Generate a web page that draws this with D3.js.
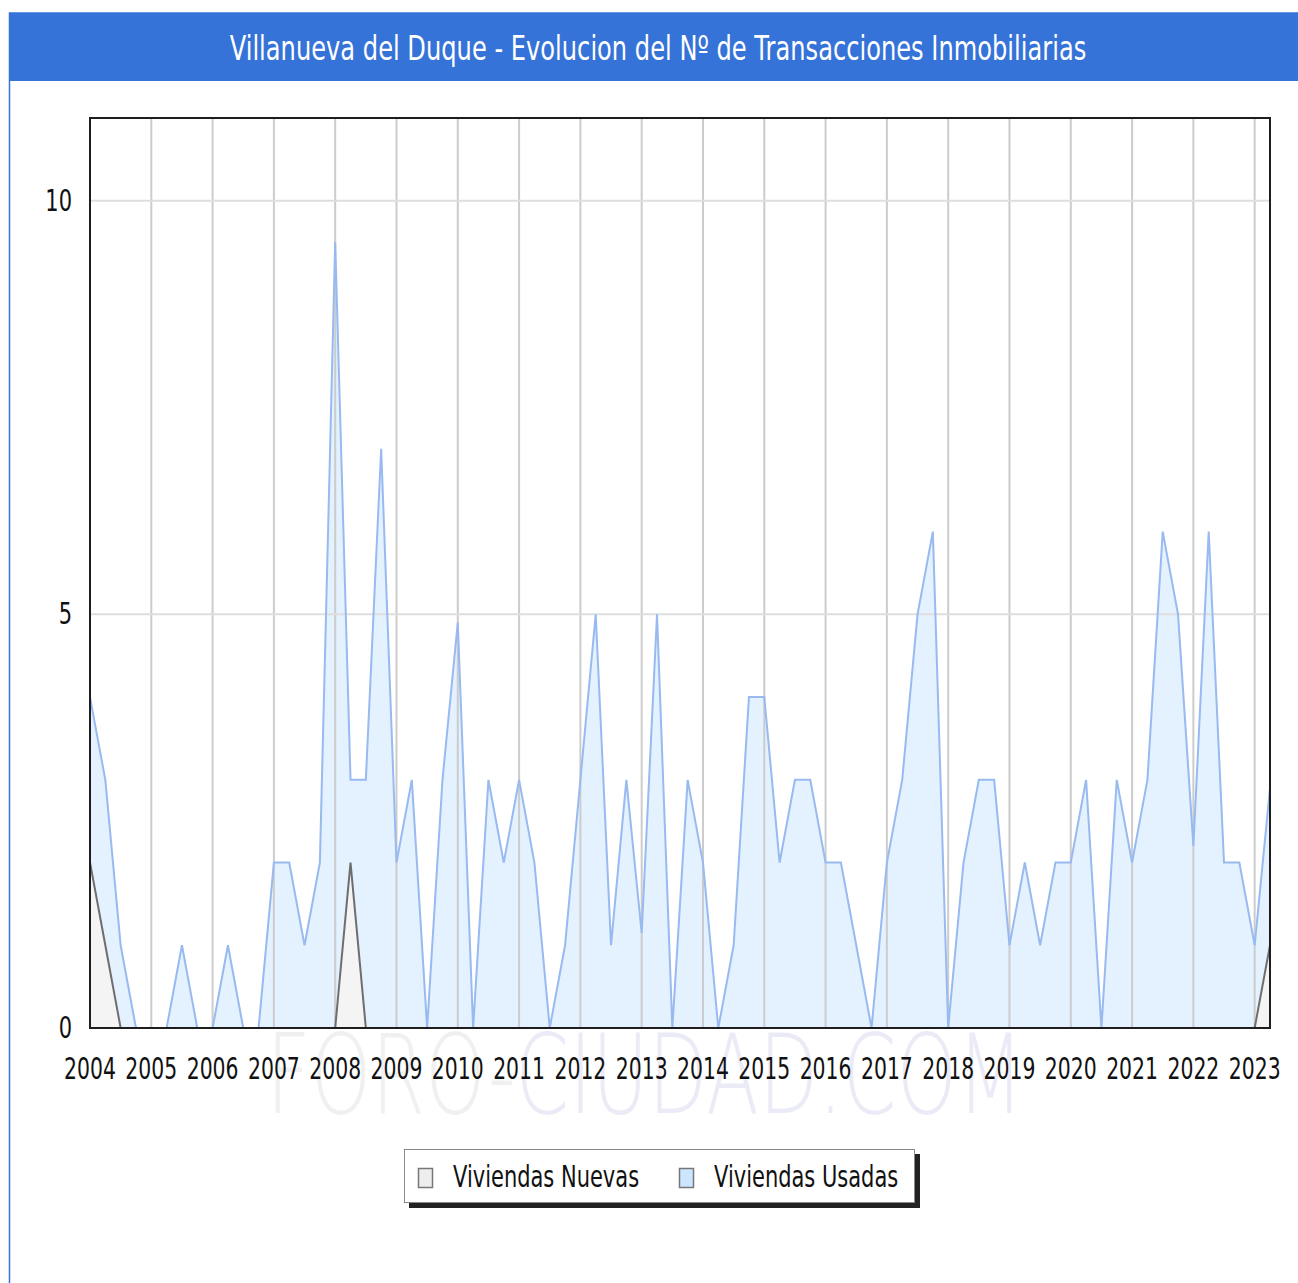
<!DOCTYPE html>
<html>
<head>
<meta charset="utf-8">
<script src="https://cdn.jsdelivr.net/npm/d3@7"></script>
<style>
  body { margin: 0; background: #fff; }
  svg text { font-family: "DejaVu Sans", sans-serif; }
</style>
</head>
<body>
<svg class="chart"></svg>
<script>
// quarterly figures, 2004 T1 .. 2023 T2
var years = ["2004","2005","2006","2007","2008","2009","2010","2011","2012","2013",
             "2014","2015","2016","2017","2018","2019","2020","2021","2022","2023"];
var yTicks = [0, 5, 10];

var usadas = [4,3,1,0, 0,0,1,0, 0,1,0,0, 2,2,1,2,
              9.5,3,3,7, 2,3,0,3, 4.9,0,3,2, 3,2,0,1,
              3,5,1,3, 1.15,5,0,3, 2,0,1,4, 4,2,3,3,
              2,2,1,0, 2,3,5,6, 0,2,3,3, 1,2,1,2,
              2,3,0,3, 2,3,6,5, 2.2,6,2,2, 1,2.9];

var nuevas = [2,1,0,0, 0,0,0,0, 0,0,0,0, 0,0,0,0,
              0,2,0,0, 0,0,0,0, 0,0,0,0, 0,0,0,0,
              0,0,0,0, 0,0,0,0, 0,0,0,0, 0,0,0,0,
              0,0,0,0, 0,0,0,0, 0,0,0,0, 0,0,0,0,
              0,0,0,0, 0,0,0,0, 0,0,0,0, 0,1];

var seriesNames = ["Viviendas Nuevas", "Viviendas Usadas"];

var width = 1298, height = 1283;
var plotLeft = 90, plotRight = 1270, plotTop = 118, plotBottom = 1028;
var sx = 0.7; // the original lettering is squeezed sideways

var svg = d3.select(".chart")
            .attr("width", width)
            .attr("height", height);

// outer frame + title bar
svg.append("rect")
   .attr("x", 9.5).attr("y", 13).attr("width", 1300).attr("height", 1300)
   .attr("fill", "none").attr("stroke", "#3673d8").attr("stroke-width", 1.5);
svg.append("rect")
   .attr("x", 10).attr("y", 13).attr("width", 1288).attr("height", 68)
   .attr("fill", "#3673d8");
svg.append("text")
   .attr("transform", "translate(658,60) scale(" + sx + ",1)")
   .attr("text-anchor", "middle")
   .attr("font-size", 34.5)
   .attr("fill", "#fff")
   .text("Villanueva del Duque - Evolucion del Nº de Transacciones Inmobiliarias");

var x = d3.scaleLinear().domain([0, usadas.length - 1]).range([plotLeft, plotRight]);
var y = d3.scaleLinear().domain([0, 11]).range([plotBottom, plotTop]);

// watermark
var wm = svg.append("text")
   .attr("transform", "translate(645,1113) scale(" + sx + ",1)")
   .attr("text-anchor", "middle")
   .attr("font-size", 110)
   .attr("font-weight", 200);
wm.append("tspan").attr("fill", "#f0f0f0").text("FORO-");
wm.append("tspan").attr("fill", "#ebebf8").text("CIUDAD.COM");

svg.append("clipPath").attr("id", "plotclip")
   .append("rect")
   .attr("x", plotLeft).attr("y", plotTop)
   .attr("width", plotRight - plotLeft).attr("height", plotBottom - plotTop);

var plot = svg.append("g").attr("clip-path", "url(#plotclip)");

var areaGen = d3.area()
    .x(function(d, i){ return x(i); })
    .y0(y(0))
    .y1(function(d){ return y(d); });
var lineGen = d3.line()
    .x(function(d, i){ return x(i); })
    .y(function(d){ return y(d); });

plot.append("path").datum(usadas)
    .attr("d", areaGen).attr("fill", "#e4f1fe");
plot.append("path").datum(nuevas)
    .attr("d", areaGen).attr("fill", "#f4f4f4");

// grid (drawn over the fills, the fills are see-through in the original)
plot.selectAll(".vgrid").data(years).enter()
    .append("line")
    .attr("class", "vgrid")
    .attr("x1", function(d, i){ return x(i * 4); })
    .attr("x2", function(d, i){ return x(i * 4); })
    .attr("y1", plotTop).attr("y2", plotBottom)
    .attr("stroke", "#cccccc").attr("stroke-width", 2);
plot.selectAll(".hgrid").data(yTicks.slice(1)).enter()
    .append("line")
    .attr("class", "hgrid")
    .attr("x1", plotLeft).attr("x2", plotRight)
    .attr("y1", function(d){ return y(d); })
    .attr("y2", function(d){ return y(d); })
    .attr("stroke", "#dedede").attr("stroke-width", 2);

plot.append("path").datum(usadas)
    .attr("d", lineGen).attr("fill", "none")
    .attr("stroke", "#98baf0").attr("stroke-width", 2);
plot.append("path").datum(nuevas)
    .attr("d", lineGen).attr("fill", "none")
    .attr("stroke", "#6e6e6e").attr("stroke-width", 2);

// plot border
svg.append("rect")
   .attr("x", plotLeft).attr("y", plotTop)
   .attr("width", plotRight - plotLeft).attr("height", plotBottom - plotTop)
   .attr("fill", "none").attr("stroke", "#1e1e1e").attr("stroke-width", 2);

// axis labels
svg.selectAll(".ylab").data(yTicks).enter()
   .append("text")
   .attr("class", "ylab")
   .attr("transform", function(d){ return "translate(72," + (y(d) + 10) + ") scale(" + sx + ",1)"; })
   .attr("text-anchor", "end")
   .attr("font-size", 30)
   .attr("fill", "#111")
   .text(function(d){ return d; });

svg.selectAll(".xlab").data(years).enter()
   .append("text")
   .attr("class", "xlab")
   .attr("transform", function(d, i){ return "translate(" + x(i * 4) + ",1079) scale(0.68,1)"; })
   .attr("text-anchor", "middle")
   .attr("font-size", 30)
   .attr("fill", "#111")
   .text(function(d){ return d; });

// legend
var lg = svg.append("g");
lg.append("rect").attr("x", 409).attr("y", 1154).attr("width", 511).attr("height", 54).attr("fill", "#222");
lg.append("rect").attr("x", 404.5).attr("y", 1149.5).attr("width", 510).attr("height", 53)
  .attr("fill", "#fff").attr("stroke", "#888").attr("stroke-width", 1);

var swatch = ["#eeeeee", "#cce6ff"];
var lx = [418, 679];
lg.selectAll(".sw").data(seriesNames).enter()
  .append("rect")
  .attr("x", function(d, i){ return lx[i] + 0.5; })
  .attr("y", 1168.5).attr("width", 14).attr("height", 19)
  .attr("fill", function(d, i){ return swatch[i]; })
  .attr("stroke", "#777").attr("stroke-width", 1.5);
lg.selectAll(".lt").data(seriesNames).enter()
  .append("text")
  .attr("transform", function(d, i){ return "translate(" + (lx[i] + 35) + ",1187) scale(" + sx + ",1)"; })
  .attr("font-size", 30)
  .attr("fill", "#111")
  .text(function(d){ return d; });
</script>
</body>
</html>
